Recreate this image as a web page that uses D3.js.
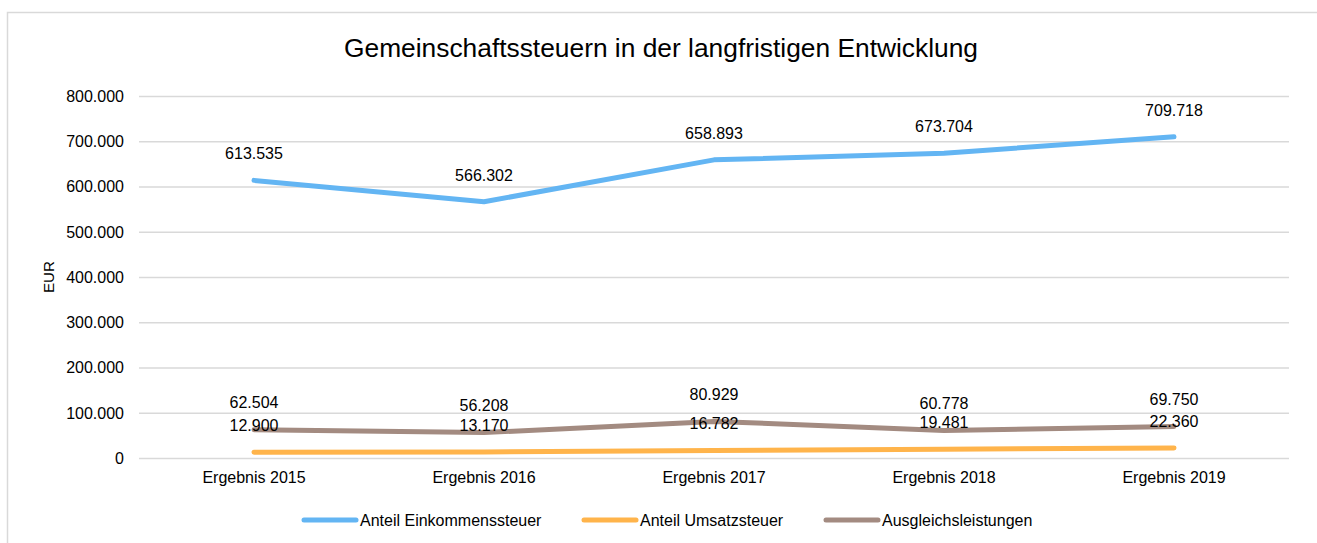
<!DOCTYPE html>
<html>
<head>
<meta charset="utf-8">
<script src="https://cdn.jsdelivr.net/npm/d3@7"></script>
<style>
  body { margin: 0; background: #fff; font-family: "Liberation Sans", Arial, sans-serif; }
  .grid line { stroke: #d9d9d9; stroke-width: 1.5; }
  .grid .domain { display: none; }
  text { fill: #000; }
</style>
</head>
<body>
<script>
// Daten
var categories = ["Ergebnis 2015", "Ergebnis 2016", "Ergebnis 2017", "Ergebnis 2018", "Ergebnis 2019"];
var einkommen = [613535, 566302, 658893, 673704, 709718];
var umsatz = [12900, 13170, 16782, 19481, 22360];
var ausgleich = [62504, 56208, 80929, 60778, 69750];
var seriesNames = ["Anteil Einkommenssteuer", "Anteil Umsatzsteuer", "Ausgleichsleistungen"];
var colors = ["#63b5f3", "#ffb44b", "#a38b81"];
var yTicks = [0, 100000, 200000, 300000, 400000, 500000, 600000, 700000, 800000];

var W = 1317, H = 543;
var margin = {top: 96, left: 139, right: W - 1289, bottom: H - 458};
var width = W - margin.left - margin.right,
    height = H - margin.top - margin.bottom;

var svg = d3.select("body").append("svg")
    .attr("width", W)
    .attr("height", H);

// Rahmen
svg.append("rect")
    .attr("x", 7.5).attr("y", 12.5)
    .attr("width", 1400).attr("height", 600)
    .attr("fill", "none")
    .attr("stroke", "#d9d9d9")
    .attr("stroke-width", 1.5);

svg.append("text")
    .attr("x", 344).attr("y", 57)
    .attr("textLength", 634)
    .attr("lengthAdjust", "spacingAndGlyphs")
    .style("font-size", "25px")
    .text("Gemeinschaftssteuern in der langfristigen Entwicklung");

var g = svg.append("g")
    .attr("transform", "translate(" + margin.left + "," + margin.top + ")");

var x = d3.scaleBand().domain(categories).range([0, width]);
var y = d3.scaleLinear().domain([0, 800000]).range([height, 0]);

var fmt = function(v) { return d3.format(",")(v).replace(/,/g, "."); };

g.append("g")
    .attr("class", "grid")
    .call(d3.axisLeft(y).tickValues(yTicks).tickSize(-width).tickFormat(""))
    .selectAll(".tick line").attr("x1", 0);

// y Achsenbeschriftung
g.selectAll(".ylab")
    .data(yTicks)
  .enter().append("text")
    .attr("class", "ylab")
    .attr("x", -15)
    .attr("y", function(d) { return y(d); })
    .attr("dy", "0.36em")
    .attr("text-anchor", "end")
    .style("font-size", "16px")
    .text(function(d) { return d === 0 ? "0" : fmt(d); });

g.selectAll(".xlab")
    .data(categories)
  .enter().append("text")
    .attr("class", "xlab")
    .attr("x", function(d) { return x(d) + x.bandwidth() / 2; })
    .attr("y", height + 19)
    .attr("dy", "0.36em")
    .attr("text-anchor", "middle")
    .style("font-size", "16px")
    .text(function(d) { return d; });

svg.append("text")
    .attr("transform", "translate(54,293) rotate(-90)")
    .attr("textLength", 32)
    .attr("lengthAdjust", "spacingAndGlyphs")
    .style("font-size", "15px")
    .text("EUR");

var allSeries = [einkommen, umsatz, ausgleich];

var line = d3.line()
    .x(function(d, i) { return x(categories[i]) + x.bandwidth() / 2; })
    .y(function(d) { return y(d); });

// Reihenfolge: Ausgleich, Umsatz, Einkommen
[2, 1, 0].forEach(function(k) {
  g.append("path")
    .datum(allSeries[k])
    .attr("fill", "none")
    .attr("stroke", colors[k])
    .attr("stroke-width", 5)
    .attr("stroke-linecap", "round")
    .attr("stroke-linejoin", "round")
    .attr("d", line);
});

[0, 1, 2].forEach(function(k) {
  g.selectAll(".lab" + k)
    .data(allSeries[k])
  .enter().append("text")
    .attr("x", function(d, i) { return x(categories[i]) + x.bandwidth() / 2; })
    .attr("y", function(d) { return y(d) - 27; })
    .attr("dy", "0.36em")
    .attr("text-anchor", "middle")
    .style("font-size", "16px")
    .text(function(d) { return fmt(d); });
});

// Legende
var legendX = [302, 582, 824];
var legend = svg.selectAll(".legend")
    .data(seriesNames)
  .enter().append("g")
    .attr("transform", function(d, i) { return "translate(" + legendX[i] + ",520)"; });

legend.append("line")
    .attr("x1", 2).attr("x2", 54)
    .attr("stroke", function(d, i) { return colors[i]; })
    .attr("stroke-width", 5)
    .attr("stroke-linecap", "round");

legend.append("text")
    .attr("x", 58)
    .attr("dy", "0.36em")
    .style("font-size", "16px")
    .text(function(d) { return d; });
</script>
</body>
</html>
